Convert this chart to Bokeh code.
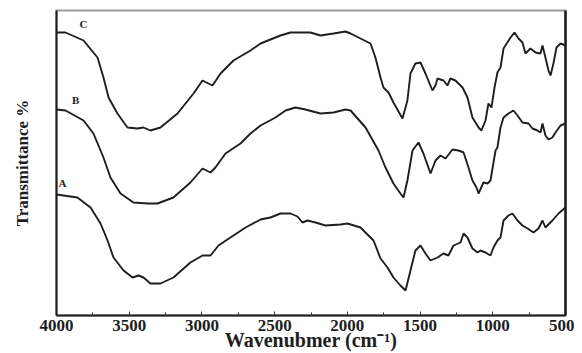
from bokeh.plotting import figure
from bokeh.models import Range1d, LinearAxis, FixedTicker
from bokeh.core.properties import value
from bokeh.embed import file_html
from bokeh.resources import INLINE

# Wavenumber (cm-1) and offset transmittance (arbitrary units) for the three spectra
wn_c = [4000, 3938, 3814, 3718, 3677, 3642, 3581, 3512, 3443, 3402, 3354, 3285, 3168, 3058,
        2996, 2955, 2927, 2872, 2783, 2666, 2597, 2460, 2391, 2343, 2254, 2185, 2095, 2013,
        1978, 1841, 1807, 1772, 1752, 1717, 1683, 1621, 1587, 1566, 1532, 1497, 1463, 1415,
        1394, 1380, 1339, 1312, 1291, 1257, 1208, 1174, 1140, 1098, 1078, 1050, 1030, 1009,
        988, 968, 947, 926, 878, 851, 823, 796, 775, 741, 706, 672, 658, 638, 617, 603, 583,
        562, 534, 500]
t_c = [283, 283, 275, 258, 238, 218, 202, 188, 187, 188, 185, 188, 202, 222,
       235, 232, 230, 242, 255, 265, 272, 280, 283, 283, 283, 280, 282, 284,
       282, 272, 258, 238, 228, 223, 213, 197, 215, 242, 252, 253, 242, 225,
       230, 237, 235, 230, 237, 235, 228, 218, 198, 188, 185, 195, 212, 208,
       228, 243, 248, 267, 278, 283, 277, 273, 262, 267, 263, 262, 270, 258, 245, 240, 252,
       268, 272, 270]

wn_b = [4000, 3938, 3814, 3746, 3677, 3629, 3560, 3471, 3374, 3306, 3196, 3079, 2996, 2941,
        2907, 2838, 2735, 2666, 2597, 2494, 2425, 2357, 2288, 2185, 2095, 2013, 1978, 1875,
        1786, 1738, 1683, 1635, 1614, 1587, 1552, 1511, 1477, 1428, 1394, 1360, 1325, 1277,
        1236, 1201, 1167, 1140, 1112, 1098, 1064, 1036, 1016, 981, 968, 947, 926, 892, 858,
        830, 796, 754, 727, 693, 672, 658, 638, 617, 590, 569, 534, 500]
t_b = [206, 205, 195, 182, 158, 138, 122, 113, 112, 112, 118, 133, 147, 143,
       148, 162, 172, 182, 190, 198, 205, 208, 206, 202, 203, 206, 205, 188,
       165, 148, 132, 122, 118, 135, 165, 173, 162, 142, 155, 160, 157, 166,
       165, 163, 148, 135, 128, 122, 133, 132, 135, 165, 168, 188, 198, 202, 205,
       200, 193, 192, 187, 185, 183, 192, 180, 176, 178, 183, 190, 192]

wn_a = [4000, 3856, 3766, 3697, 3649, 3608, 3539, 3477, 3436, 3402, 3354, 3285, 3196, 3079,
        2996, 2941, 2886, 2804, 2700, 2597, 2529, 2460, 2391, 2343, 2309, 2274, 2219, 2150,
        2047, 1999, 1910, 1820, 1772, 1724, 1683, 1635, 1600, 1566, 1532, 1497, 1463, 1428,
        1380, 1339, 1305, 1270, 1222, 1201, 1174, 1140, 1105, 1085, 1050, 1016, 995, 968,
        947, 926, 892, 865, 830, 796, 761, 720, 686, 658, 638, 590, 548, 500]
t_a = [121, 118, 108, 92, 75, 58, 45, 38, 40, 38, 32, 32, 38, 53,
       60, 60, 70, 78, 88, 96, 98, 102, 102, 99, 93, 95, 93, 90,
       91, 92, 88, 75, 57, 48, 38, 30, 25, 45, 65, 70, 62, 55,
       58, 62, 60, 70, 73, 82, 78, 67, 63, 65, 63, 60, 68, 75,
       78, 95, 100, 102, 95, 90, 87, 83, 87, 95, 88, 95, 102, 108]

curve_names = ["C", "B", "A"]
name_wn = [3814, 3869, 3959]
name_t = [292, 216, 133]

x_ticks = [4000, 3500, 3000, 2500, 2000, 1500, 1000, 500]
x_minor = [3750, 3250, 2750, 2250, 1750, 1250, 750]

p = figure(width=574, height=353, x_range=Range1d(4000, 500), y_range=Range1d(0, 305),
           output_backend="svg", toolbar_location=None,
           min_border_left=56, min_border_right=9, min_border_top=10, min_border_bottom=38)
p.background_fill_color = "white"
p.border_fill_color = "white"
p.outline_line_color = "#9a9a9a"
p.outline_line_width = 2
p.xgrid.visible = False
p.ygrid.visible = False

for wn, t in [(wn_c, t_c), (wn_b, t_b), (wn_a, t_a)]:
    p.line(wn, t, line_color="#1e1e1e", line_width=1.9)

p.text(name_wn, name_t, text=curve_names, text_font=value("Liberation Serif"),
       text_font_style="bold", text_font_size="11px", text_color="#1e1e1e",
       text_align="center", text_baseline="middle")

serif = "Liberation Serif"
xa = p.xaxis[0]
xa.ticker = FixedTicker(ticks=x_ticks, minor_ticks=x_minor)
xa.axis_line_color = "#1e1e1e"
xa.axis_line_width = 2
xa.major_tick_in = 4
xa.major_tick_out = 0
xa.minor_tick_in = 3
xa.minor_tick_out = 0
xa.major_tick_line_color = "#333"
xa.minor_tick_line_color = "#333"
xa.major_label_text_font = serif
xa.major_label_text_font_style = "bold"
xa.major_label_text_font_size = "17px"
xa.major_label_text_color = "#1e1e1e"
xa.major_label_standoff = 4
xa.axis_label = "Wavenubmer (cm\u207b\u00b9)"
xa.axis_label_text_font = serif
xa.axis_label_text_font_style = "bold"
xa.axis_label_text_font_size = "20px"
xa.axis_label_text_color = "#1e1e1e"
xa.axis_label_standoff = -5

ya = p.yaxis[0]
ya.ticker = FixedTicker(ticks=[])
ya.axis_line_color = "#1e1e1e"
ya.axis_line_width = 2
ya.major_tick_line_color = None
ya.minor_tick_line_color = None
ya.major_label_text_font_size = "0px"
ya.axis_label = "Transmittance %"
ya.axis_label_text_font = serif
ya.axis_label_text_font_style = "bold"
ya.axis_label_text_font_size = "17px"
ya.axis_label_text_color = "#1e1e1e"
ya.axis_label_standoff = 25

ra = LinearAxis(ticker=FixedTicker(ticks=[]), axis_line_color="#1e1e1e", axis_line_width=2.5,
                major_tick_line_color=None, minor_tick_line_color=None,
                major_label_text_font_size="0px")
p.add_layout(ra, "right")

open("out.html", "w").write(file_html(p, INLINE))
